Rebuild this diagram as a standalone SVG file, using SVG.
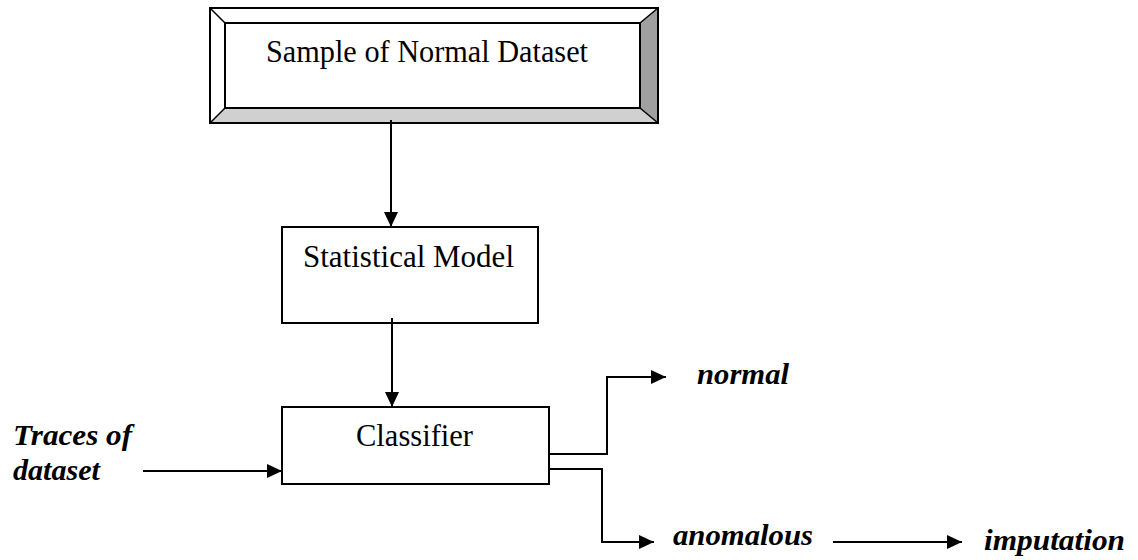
<svg xmlns="http://www.w3.org/2000/svg" width="1138" height="560" viewBox="0 0 1138 560">
<style>
.box{fill:#fff;stroke:#000;stroke-width:2}
.lbl{font-family:"Liberation Serif","Times New Roman",serif;font-size:31px;fill:#000}
.it{font-family:"Liberation Serif","Times New Roman",serif;font-size:30px;font-style:italic;font-weight:bold;fill:#000}
.ln{fill:none;stroke:#000;stroke-width:2}
</style>
<defs>
<marker id="ah" markerWidth="15" markerHeight="14" refX="15" refY="7" orient="auto" markerUnits="userSpaceOnUse">
<path d="M0,0 L15,7 L0,14 Z" fill="#000"/>
</marker>
</defs>
<rect width="1138" height="560" fill="#fff"/>
<g id="sample">
<rect x="210" y="8" width="448" height="115" fill="#fff"/>
<polygon points="210,123 225,108 640,108 658,123" fill="#d0d0d0"/>
<polygon points="658,8 640,23 640,108 658,123" fill="#a0a0a0"/>
<rect x="210" y="8" width="448" height="115" fill="none" stroke="#000" stroke-width="2"/>
<rect x="225" y="23" width="415" height="85" fill="none" stroke="#000" stroke-width="2"/>
<path d="M210,8 L225,23 M658,8 L640,23 M210,123 L225,108 M658,123 L640,108" stroke="#000" stroke-width="1.5"/>
<text class="lbl" x="266" y="62" textLength="322" lengthAdjust="spacingAndGlyphs">Sample of Normal Dataset</text>
</g>
<g id="model">
<rect class="box" x="282" y="227" width="256" height="96"/>
<text class="lbl" x="303" y="267" textLength="211" lengthAdjust="spacingAndGlyphs">Statistical Model</text>
</g>
<g id="classifier">
<rect class="box" x="282" y="407" width="267" height="77"/>
<text class="lbl" x="356" y="446" textLength="117" lengthAdjust="spacingAndGlyphs">Classifier</text>
</g>
<g id="traces">
<text class="it" x="13" y="445" textLength="119" lengthAdjust="spacingAndGlyphs">Traces of</text>
<text class="it" x="13" y="480" textLength="87" lengthAdjust="spacingAndGlyphs">dataset</text>
</g>
<g id="normal">
<text class="it" x="697" y="384" textLength="92" lengthAdjust="spacingAndGlyphs">normal</text>
</g>
<g id="anomalous">
<text class="it" x="673" y="545" textLength="140" lengthAdjust="spacingAndGlyphs">anomalous</text>
</g>
<g id="imputation">
<text class="it" x="984" y="550" textLength="141" lengthAdjust="spacingAndGlyphs">imputation</text>
</g>
<g id="connectors">
<path class="ln" d="M391,120 L391,227" marker-end="url(#ah)"/>
<path class="ln" d="M392,318 L392,407" marker-end="url(#ah)"/>
<path class="ln" d="M143,471 L282,471" marker-end="url(#ah)"/>
<path class="ln" d="M549,454 L607,454 L607,377 L666,377" marker-end="url(#ah)"/>
<path class="ln" d="M549,469 L602,469 L602,542 L654,542" marker-end="url(#ah)"/>
<path class="ln" d="M833,542 L962,542" marker-end="url(#ah)"/>
</g>
</svg>
